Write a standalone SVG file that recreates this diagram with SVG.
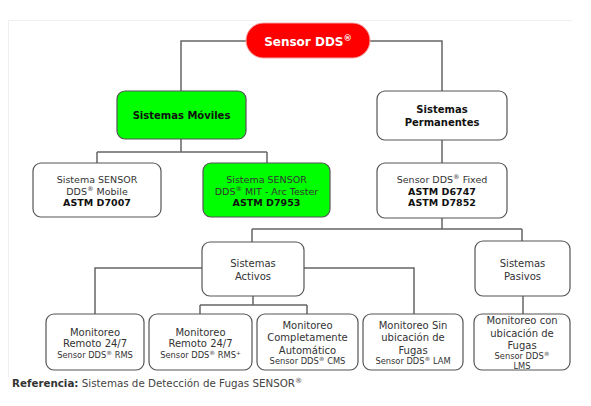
<svg xmlns="http://www.w3.org/2000/svg" width="591" height="406" viewBox="0 0 591 406">
<style>
text{font-family:"DejaVu Sans","Liberation Sans",sans-serif;text-anchor:middle;fill:#333}
.b{font-weight:bold;fill:#111}
.box{fill:#fff;stroke:#555;stroke-width:1.2}
.green{fill:#00ff00;stroke:#555;stroke-width:1.2}
.m{font-size:9.5px}
.l{font-size:10px}
.s{font-size:8.3px}
.sup{font-size:70%;baseline-shift:super}
#connectors path{fill:none;stroke:#666;stroke-width:1.5}
</style>
<rect width="591" height="406" fill="#fff"/>
<path d="M8.5,377 V20.5 H572" fill="none" stroke="#f0f0f0" stroke-width="1"/>
<g id="connectors">
<path d="M246,41 H181 V91"/>
<path d="M370,41 H442 V91"/>
<path d="M181,139 V152 M97,152 H267 M97,152 V163 M267,152 V163"/>
<path d="M442,140 V163"/>
<path d="M442,218 V229 M252,229 H522 M252,229 V242 M522,229 V241"/>
<path d="M202,268 H95 V314"/>
<path d="M304,268 H414 V314"/>
<path d="M253,296 V305 M200,305 H307 M200,305 V314 M307,305 V314"/>
<path d="M523,296 V314"/>
</g>
<g id="root">
<rect x="246" y="23" width="124" height="35" rx="17.5" fill="#ff0000" stroke="#f4a0a0" stroke-width="1"/>
<text x="308" y="45.5" class="b" style="font-size:12px;fill:#fff">Sensor DDS<tspan class="sup">®</tspan></text>
</g>
<g id="moviles">
<rect x="117" y="91" width="129" height="48" rx="8" class="green"/>
<text x="181.5" y="119" class="b l">Sistemas Móviles</text>
</g>
<g id="permanentes">
<rect x="377" y="91" width="130" height="49" rx="8" class="box"/>
<text x="442" y="113" class="b l">Sistemas</text>
<text x="442" y="126" class="b l">Permanentes</text>
</g>
<g id="mobile">
<rect x="33" y="163" width="128" height="54" rx="8" class="box"/>
<text x="97" y="183" class="m">Sistema SENSOR</text>
<text x="97" y="194.5" class="m">DDS<tspan class="sup">®</tspan> Mobile</text>
<text x="97" y="206" class="b m">ASTM D7007</text>
</g>
<g id="mit">
<rect x="203" y="163" width="127" height="54" rx="8" class="green"/>
<text x="266.5" y="183" class="m">Sistema SENSOR</text>
<text x="266.5" y="194.5" class="m">DDS<tspan class="sup">®</tspan> MIT - Arc Tester</text>
<text x="266.5" y="206" class="b m">ASTM D7953</text>
</g>
<g id="fixed">
<rect x="377" y="163" width="130" height="55" rx="8" class="box"/>
<text x="442" y="183" class="m">Sensor DDS<tspan class="sup">®</tspan> Fixed</text>
<text x="442" y="194.5" class="b m">ASTM D6747</text>
<text x="442" y="206" class="b m">ASTM D7852</text>
</g>
<g id="activos">
<rect x="202" y="242" width="102" height="54" rx="8" class="box"/>
<text x="253" y="266.5" class="l">Sistemas</text>
<text x="253" y="279.5" class="l">Activos</text>
</g>
<g id="pasivos">
<rect x="475" y="241" width="95" height="55" rx="8" class="box"/>
<text x="522.5" y="266.5" class="l">Sistemas</text>
<text x="522.5" y="279.5" class="l">Pasivos</text>
</g>
<g id="rms1">
<rect x="46" y="314" width="98" height="56" rx="8" class="box"/>
<text x="95" y="335.5" class="l">Monitoreo</text>
<text x="95" y="347" class="l">Remoto 24/7</text>
<text x="95" y="357.5" class="s">Sensor DDS<tspan class="sup">®</tspan> RMS</text>
</g>
<g id="rms2">
<rect x="149" y="314" width="103" height="56" rx="8" class="box"/>
<text x="200.5" y="335.5" class="l">Monitoreo</text>
<text x="200.5" y="347" class="l">Remoto 24/7</text>
<text x="200.5" y="357.5" class="s">Sensor DDS<tspan class="sup">®</tspan> RMS<tspan class="sup">+</tspan></text>
</g>
<g id="cms">
<rect x="257" y="314" width="101" height="56" rx="8" class="box"/>
<text x="307.5" y="328.5" class="l">Monitoreo</text>
<text x="307.5" y="341" class="l">Completamente</text>
<text x="307.5" y="353.5" class="l">Automático</text>
<text x="307.5" y="364" class="s">Sensor DDS<tspan class="sup">®</tspan> CMS</text>
</g>
<g id="lam">
<rect x="363" y="314" width="100" height="56" rx="8" class="box"/>
<text x="413" y="328.5" class="l">Monitoreo Sin</text>
<text x="413" y="341" class="l">ubicación de</text>
<text x="413" y="353.5" class="l">Fugas</text>
<text x="413" y="364" class="s">Sensor DDS<tspan class="sup">®</tspan> LAM</text>
</g>
<g id="lms">
<rect x="474" y="314" width="96" height="56" rx="8" class="box"/>
<text x="522" y="323.5" class="l">Monitoreo con</text>
<text x="522" y="336.5" class="l">ubicación de</text>
<text x="522" y="348.5" class="l">Fugas</text>
<text x="522" y="359" class="s">Sensor DDS<tspan class="sup">®</tspan></text>
<text x="522" y="369" class="s">LMS</text>
</g>
<text x="12" y="387" style="font-size:10.3px;text-anchor:start;fill:#444"><tspan style="font-weight:bold;fill:#333">Referencia:</tspan> Sistemas de Detección de Fugas SENSOR<tspan class="sup">®</tspan></text>
</svg>
